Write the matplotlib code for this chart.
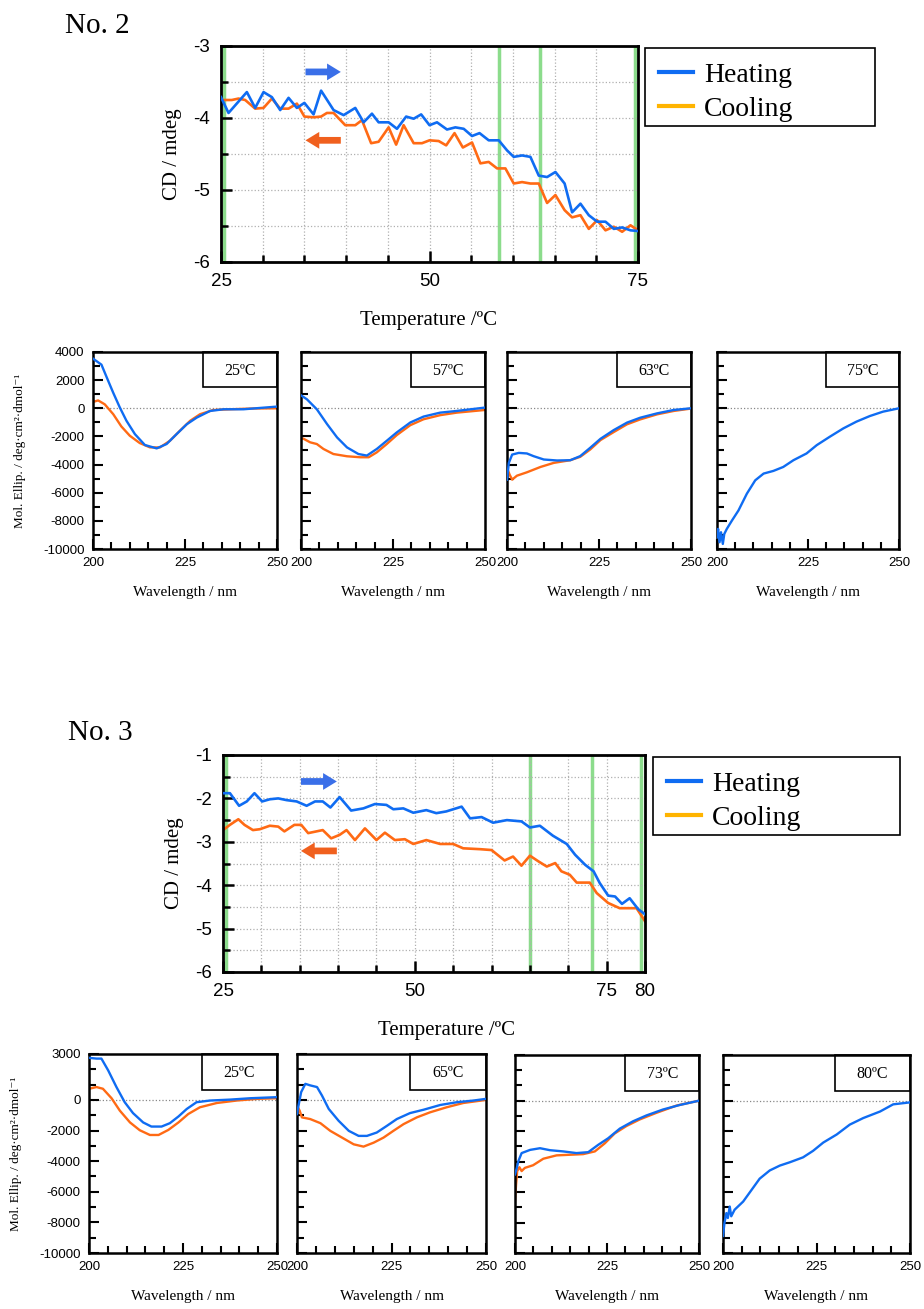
import numpy as np
import matplotlib
matplotlib.use('Agg')
import matplotlib.pyplot as plt
from matplotlib.patches import Rectangle
from matplotlib.lines import Line2D

plt.rcParams['axes.unicode_minus'] = False

# ---------- data: thermal scans (CD / mdeg vs temperature) ----------
t2_heat = [25, 25.9, 28.1, 29.1, 30.1, 31.1, 32.1, 33.1, 34.1, 35, 36.1, 37, 38.5, 39.7, 41.1, 42.1, 43.1, 43.9,
           45.1, 46.1, 47.2, 48.1, 49, 50, 50.9, 52.1, 53.1, 54.1, 55.1, 56, 57.1, 58.3, 59.3, 60.1, 61.1, 62.1,
           63.1, 64.1, 65.1, 66.2, 67.1, 68.1, 69.1, 70.1, 71.1, 72.1, 73.1, 74.1, 75]
cd2_heat = [-3.71, -3.93, -3.64, -3.86, -3.64, -3.71, -3.89, -3.72, -3.86, -3.79, -3.95, -3.62, -3.89, -3.96,
            -3.86, -4.06, -3.94, -4.06, -4.06, -4.15, -3.98, -4.01, -3.95, -4.10, -4.06, -4.16, -4.13, -4.15,
            -4.25, -4.21, -4.31, -4.31, -4.45, -4.54, -4.52, -4.54, -4.80, -4.82, -4.75, -4.91, -5.31, -5.19,
            -5.35, -5.44, -5.44, -5.54, -5.52, -5.56, -5.57]
t2_cool = [25, 26.3, 27.1, 27.9, 29.1, 30.1, 31.1, 32.1, 33.1, 34.1, 35, 36.1, 37, 37.7, 38.5, 39.9, 41.1, 41.9,
           43, 43.9, 45.1, 46, 46.9, 48.1, 49.1, 50, 51.1, 52, 53, 54, 55.1, 56.1, 57.1, 58.1, 59.1, 60.1, 61.1,
           62.1, 63.1, 64.1, 65.1, 66.2, 67.1, 68.1, 69.1, 70.1, 71.1, 72.1, 73.1, 74.1, 75]
cd2_cool = [-3.75, -3.75, -3.73, -3.75, -3.87, -3.86, -3.73, -3.87, -3.87, -3.80, -3.98, -3.99, -3.98, -3.93,
            -3.93, -4.10, -4.10, -4.03, -4.35, -4.33, -4.13, -4.37, -4.10, -4.35, -4.35, -4.31, -4.32, -4.38,
            -4.21, -4.41, -4.34, -4.63, -4.61, -4.70, -4.70, -4.91, -4.89, -4.91, -4.91, -5.18, -5.07, -5.28,
            -5.38, -5.35, -5.54, -5.42, -5.56, -5.51, -5.58, -5.49, -5.56]

t3_heat = [25, 25.9, 27.1, 28.1, 29.1, 30.1, 31.1, 32.2, 33.3, 34.6, 35.9, 37, 38, 39, 40.2, 41.7, 43.3, 44.8,
           46.3, 47.2, 48.5, 49.8, 51.5, 52.8, 54.1, 56.1, 57.2, 58.7, 60.2, 62, 63.9, 65, 66.3, 68, 69.8, 70.9,
           72.2, 73.3, 74.1, 75.2, 76.1, 77, 78, 79.1, 80]
cd3_heat = [-1.88, -1.88, -2.17, -2.07, -1.88, -2.07, -2.02, -2.00, -2.04, -2.07, -2.17, -2.07, -2.07, -2.21,
            -1.97, -2.28, -2.23, -2.13, -2.15, -2.25, -2.23, -2.33, -2.27, -2.34, -2.30, -2.19, -2.46, -2.43,
            -2.56, -2.50, -2.53, -2.67, -2.63, -2.86, -3.05, -3.30, -3.53, -3.68, -3.95, -4.24, -4.26, -4.43,
            -4.30, -4.55, -4.67]
t3_cool = [25, 25.9, 27, 27.8, 28.9, 29.8, 31.1, 32.2, 33, 34.3, 35.2, 36.1, 38, 39.1, 40.2, 41.1, 42.2, 43.5,
           45, 46.1, 47.4, 48.7, 49.8, 51.5, 53.3, 55, 56.3, 58.5, 60, 61.7, 62.8, 63.9, 65, 66.1, 67.2, 68.3,
           69.1, 70.2, 71.1, 72.8, 73.7, 75.2, 76.7, 78.9, 80]
cd3_cool = [-2.73, -2.61, -2.48, -2.61, -2.73, -2.71, -2.63, -2.65, -2.76, -2.61, -2.61, -2.80, -2.73, -2.92,
            -2.84, -2.73, -2.96, -2.69, -2.96, -2.79, -2.96, -2.94, -3.05, -2.96, -3.05, -3.05, -3.15, -3.17,
            -3.19, -3.43, -3.34, -3.55, -3.32, -3.45, -3.57, -3.49, -3.68, -3.76, -3.94, -3.94, -4.18, -4.41,
            -4.53, -4.53, -4.83]

green2 = [25.4, 58.3, 63.3, 74.7]
green3 = [25.35, 65, 73.1, 79.5]

# ---------- data: spectra (Mol. Ellip. vs wavelength) ----------
# No. 2
w2_25_h = [200, 202.3, 203.6, 205.5, 207.3, 209.1, 211.4, 214.1, 217.3, 220, 222.7, 225.5, 228.2, 231.8, 235.5, 240.9, 250]
m2_25_h = [3530, 3100, 2280, 1100, 50, -890, -1840, -2610, -2850, -2540, -1840, -1130, -660, -190, -70, -70, 120]
w2_25_c = [200, 201.4, 203.2, 205.5, 207.7, 210, 212.7, 215.5, 218.2, 220.9, 223.6, 226.4, 229.1, 232.7, 237.3, 242.7, 250]
m2_25_c = [450, 560, 280, -420, -1290, -1950, -2470, -2780, -2780, -2310, -1600, -890, -420, -120, -70, -20, 0]

w2_57_h = [200, 201.6, 204.3, 207.1, 209.8, 212.5, 215.6, 217.9, 220.6, 223.3, 226, 229.7, 233.3, 237.8, 242.3, 250]
m2_57_h = [920, 640, -70, -1130, -2070, -2780, -3250, -3360, -2890, -2310, -1720, -1010, -590, -310, -190, 50]
w2_57_c = [200, 200.5, 202.5, 204.3, 206.1, 208.8, 212.5, 216.1, 218.4, 220.6, 223.3, 226, 229.7, 233.3, 237.8, 242.3, 250]
m2_57_c = [-2190, -2140, -2420, -2540, -2890, -3250, -3410, -3480, -3480, -3130, -2540, -1910, -1200, -780, -490, -310, -120]

w2_63_h = [200, 200.5, 201.4, 203.2, 205.4, 207.2, 210, 213.6, 217.2, 219.9, 222.6, 225.4, 229, 232.6, 236.2, 240.8, 245.3, 250]
m2_63_h = [-5070, -3880, -3290, -3170, -3210, -3400, -3640, -3710, -3690, -3400, -2810, -2170, -1550, -1020, -670, -360, -120, 0]
w2_63_c = [200, 200.7, 201.4, 202.7, 205.4, 209.1, 212.7, 217.2, 219.9, 222.6, 225.4, 229, 232.6, 236.2, 240.8, 245.3, 250]
m2_63_c = [-4240, -4710, -5070, -4790, -4550, -4170, -3880, -3690, -3450, -2930, -2260, -1690, -1140, -790, -430, -190, -20]

w2_75_h = [200, 200.3, 200.7, 201.1, 201.6, 202, 202.7, 204.1, 205.9, 208.2, 210.5, 212.8, 215.5, 218.2, 221, 224.6,
           227.4, 231, 234.7, 238.3, 242, 245.6, 250]
m2_75_h = [-9170, -8570, -9520, -8810, -9640, -8930, -8570, -7980, -7260, -6070, -5120, -4640, -4450, -4170, -3690,
           -3210, -2620, -2020, -1430, -950, -550, -240, 0]

# No. 3
w3_25_h = [200, 202, 203.3, 205.1, 207.3, 209.5, 211.7, 214.4, 216.6, 219.3, 221.5, 223.8, 226, 228.6, 232.2, 237.5, 242.9, 250]
m3_25_h = [2750, 2700, 2700, 1930, 840, -150, -860, -1470, -1740, -1740, -1520, -1080, -590, -150, -40, 20, 110, 180]
w3_25_c = [200, 202, 203.7, 206, 208.2, 210.9, 213.5, 216.2, 218.5, 221.1, 223.8, 226.4, 229.5, 234, 239.3, 244.7, 250]
m3_25_c = [730, 840, 730, 110, -700, -1470, -1980, -2290, -2290, -1960, -1470, -920, -480, -200, -40, 70, 110]

w3_65_h = [200, 200.4, 201.1, 202.2, 203.5, 205.3, 206.6, 208.4, 211, 213.7, 216.3, 218.5, 221.1, 223.8, 226.4,
           229.9, 233.5, 237.9, 242.3, 246.7, 250]
m3_65_h = [-920, -370, 510, 1050, 950, 840, 290, -590, -1360, -2020, -2350, -2350, -2130, -1690, -1250, -860, -640,
           -330, -150, -40, 70]
w3_65_c = [200, 200.7, 201.3, 203.5, 206.2, 208.8, 211.9, 215, 217.6, 220.3, 222.9, 225.5, 228.2, 231.7, 235.2, 239.6, 244, 250]
m3_65_c = [-370, -700, -1140, -1250, -1520, -2020, -2460, -2900, -3050, -2790, -2460, -2020, -1580, -1140, -810, -480, -200, 0]

w3_73_h = [200, 200.5, 200.9, 201.8, 204.1, 206.8, 209.5, 213.1, 216.7, 219.9, 222.6, 225.3, 228.5, 232.1, 235.7, 240.2, 244.8, 250]
m3_73_h = [-4840, -4410, -3980, -3440, -3230, -3120, -3250, -3330, -3440, -3380, -2900, -2470, -1830, -1350, -970,
           -580, -280, 0]
w3_73_c = [200, 200.3, 200.6, 201.2, 201.8, 202.7, 204.9, 207.7, 211.3, 214.9, 218.5, 221.7, 224.4, 227.1, 230.3,
           233.9, 238.4, 243.9, 250]
m3_73_c = [-6560, -5480, -4620, -4370, -4620, -4410, -4240, -3810, -3590, -3550, -3510, -3330, -2800, -2150, -1660,
           -1230, -800, -320, 0]

w3_80_h = [200, 200.4, 200.9, 201.3, 201.8, 202.2, 203.1, 205.4, 207.6, 209.8, 212.5, 215.2, 217.9, 221.4, 224.1,
           226.8, 230.4, 233.9, 237.5, 242, 245.5, 250]
m3_80_h = [-8880, -8020, -7380, -7700, -6950, -7590, -7160, -6620, -5870, -5120, -4580, -4260, -4040, -3720, -3290,
           -2750, -2220, -1570, -1140, -710, -240, -110]

labels2 = ['25ºC', '57ºC', '63ºC', '75ºC']
labels3 = ['25ºC', '65ºC', '73ºC', '80ºC']

BLUE = '#0f6cf2'
ORANGE = '#ff6a14'
LEG_ORANGE = '#ffb400'
GREEN = '#8cdc8c'
SERIF = ['Liberation Serif', 'DejaVu Serif']
SANS = 'Liberation Sans'

W, H = 924, 1309
fig = plt.figure(figsize=(W / 100, H / 100), dpi=100)


def box(l, r, t, b):
    return [l / W, (H - b) / H, (r - l) / W, (b - t) / H]


def temp_plot(rect, xmax, xticks, ylo, yhi, heat, cool, greens, arrow_x, arrow_y):
    ax = fig.add_axes(rect)
    ax.set_xlim(25, xmax)
    ax.set_ylim(ylo, yhi)
    for g in greens:
        ax.axvline(g, color=GREEN, lw=2.5, zorder=1)
    ax.plot(heat[0], heat[1], color=BLUE, lw=1.9, zorder=3)
    ax.plot(cool[0], cool[1], color=ORANGE, lw=1.9, zorder=2)
    ax.set_xticks(xticks)
    ax.set_xticks(np.arange(30, xmax, 5), minor=True)
    ax.set_yticks(np.arange(ylo, yhi + 0.1, 1))
    ax.set_yticks(np.arange(ylo + 0.5, yhi, 1), minor=True)
    ax.grid(True, which='both', color='#b0b0b0', ls=':', lw=0.9, zorder=0)
    ax.tick_params(which='both', direction='in', top=False, right=False, width=1.8)
    ax.tick_params(which='major', length=8, labelsize=13.5, pad=8)
    ax.tick_params(which='minor', length=5)
    for lab in ax.get_xticklabels() + ax.get_yticklabels():
        lab.set_fontfamily(SANS)
    for s in ax.spines.values():
        s.set_linewidth(2)
    ax.set_ylabel('CD / mdeg', fontfamily=SERIF, fontsize=15, labelpad=8)
    style = 'simple,head_length=0.45,head_width=0.55,tail_width=0.22'
    ax.annotate('', xy=(arrow_x[1], arrow_y[0]), xytext=(arrow_x[0], arrow_y[0]),
                arrowprops=dict(arrowstyle=style, color='#3a6fe8', lw=0, mutation_scale=22), zorder=4)
    ax.annotate('', xy=(arrow_x[0], arrow_y[1]), xytext=(arrow_x[1], arrow_y[1]),
                arrowprops=dict(arrowstyle=style, color='#f0601e', lw=0, mutation_scale=22), zorder=4)
    return ax


def legend(l, r, t, b):
    fig.add_artist(Rectangle((l / W, 1 - b / H), (r - l) / W, (b - t) / H, transform=fig.transFigure,
                             fill=False, ec='black', lw=1.2))
    handles = [Line2D([], [], color=BLUE, lw=3), Line2D([], [], color=LEG_ORANGE, lw=3)]
    fig.legend(handles, ['Heating', 'Cooling'], loc='upper left', bbox_to_anchor=((l + 6) / W, 1 - (t + 6) / H),
               borderaxespad=0, frameon=False, prop={'family': SERIF, 'size': 20},
               handlelength=1.2, handletextpad=0.4, borderpad=0.3, labelspacing=0.3)


def spectra_row(rects, series, labels, ytop, ymajor):
    for i, (rect, ser, lab) in enumerate(zip(rects, series, labels)):
        ax = fig.add_axes(rect)
        ax.set_xlim(200, 250)
        ax.set_ylim(-10000, ytop)
        ax.axhline(0, color='#888888', ls=':', lw=0.9, zorder=1)
        if ser[2] is not None:
            ax.plot(ser[2], ser[3], color=ORANGE, lw=1.7, zorder=2)
        ax.plot(ser[0], ser[1], color=BLUE, lw=1.7, zorder=3)
        ax.set_xticks([200, 225, 250])
        ax.set_xticks(np.arange(205, 250, 5), minor=True)
        ax.set_yticks(ymajor)
        ax.set_yticks(np.arange(-9000, ytop, 1000), minor=True)
        ax.tick_params(which='both', direction='in', top=False, right=False, width=1.5)
        ax.tick_params(which='major', length=7, labelsize=9.5, pad=6)
        ax.tick_params(which='minor', length=5)
        if i > 0:
            ax.set_yticklabels([])
        for t in ax.get_xticklabels() + ax.get_yticklabels():
            t.set_fontfamily(SANS)
        for s in ax.spines.values():
            s.set_linewidth(1.8)
        ax.set_xlabel('Wavelength / nm', fontfamily=SERIF, fontsize=11, labelpad=12)
        ax.add_patch(Rectangle((0.6, 0.82), 0.4, 0.18, transform=ax.transAxes, fill=False,
                               lw=1.2, ec='black', zorder=5, clip_on=False))
        ax.text(0.8, 0.905, lab, transform=ax.transAxes, ha='center', va='center',
                fontfamily=SERIF, fontsize=11.5, zorder=6)
        if i == 0:
            ax.set_ylabel('Mol. Ellip. / deg·cm²·dmol⁻¹', fontfamily=SERIF, fontsize=9.5, labelpad=12)


# ---------- No. 2 ----------
fig.text(65 / W, 1 - 26 / H, 'No. 2', fontfamily=SERIF, fontsize=21, va='center')
temp_plot(box(221, 638, 46, 262), 75, [25, 50, 75], -6, -3,
          (t2_heat, cd2_heat), (t2_cool, cd2_cool), green2, (34.8, 39.7), (-3.36, -4.31))
legend(645, 875, 48, 126)
fig.text(429 / W, 1 - 320 / H, 'Temperature /ºC', fontfamily=SERIF, fontsize=15, ha='center', va='center')

spectra_row([box(93, 277, 352, 549), box(301, 485, 352, 549), box(507, 691, 352, 549), box(717, 899, 352, 549)],
            [(w2_25_h, m2_25_h, w2_25_c, m2_25_c), (w2_57_h, m2_57_h, w2_57_c, m2_57_c),
             (w2_63_h, m2_63_h, w2_63_c, m2_63_c), (w2_75_h, m2_75_h, None, None)],
            labels2, 4000, [4000, 2000, 0, -2000, -4000, -6000, -8000, -10000])

# ---------- No. 3 ----------
fig.text(68 / W, 1 - 733 / H, 'No. 3', fontfamily=SERIF, fontsize=21, va='center')
temp_plot(box(223, 645, 755, 972), 80, [25, 50, 75, 80], -6, -1,
          (t3_heat, cd3_heat), (t3_cool, cd3_cool), green3, (34.8, 40.2), (-1.61, -3.21))
legend(653, 900, 757, 835)
fig.text(447 / W, 1 - 1031 / H, 'Temperature /ºC', fontfamily=SERIF, fontsize=15, ha='center', va='center')

spectra_row([box(89, 277, 1054, 1253), box(297, 486, 1054, 1253), box(515, 699, 1055, 1253), box(723, 910, 1055, 1253)],
            [(w3_25_h, m3_25_h, w3_25_c, m3_25_c), (w3_65_h, m3_65_h, w3_65_c, m3_65_c),
             (w3_73_h, m3_73_h, w3_73_c, m3_73_c), (w3_80_h, m3_80_h, None, None)],
            labels3, 3000, [3000, 0, -2000, -4000, -6000, -8000, -10000])

fig.savefig('out.png', dpi=100)
